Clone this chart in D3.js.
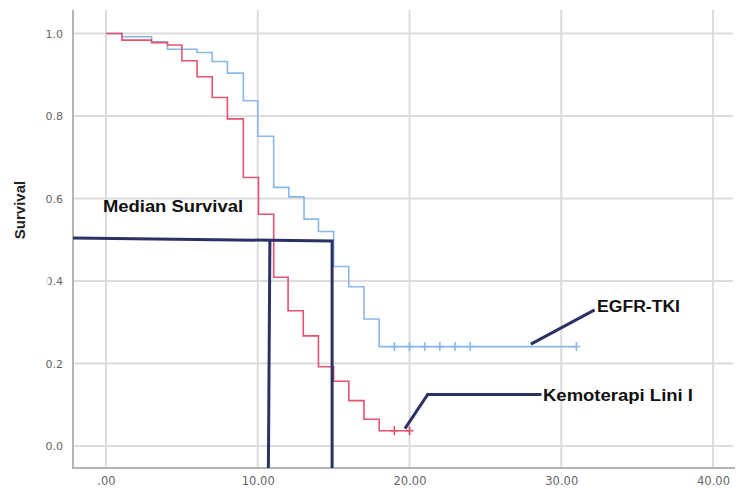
<!DOCTYPE html>
<html>
<head>
<meta charset="utf-8">
<script src="https://cdn.jsdelivr.net/npm/d3@7"></script>
<style>
  html, body { margin: 0; padding: 0; background: #fff; }
  svg { display: block; }
</style>
</head>
<body>
<svg id="chart" width="736" height="489"></svg>
<script>
// ---- data ----
const xTicks = [0, 10, 20, 30, 40];
const xTickLabels = [".00", "10.00", "20.00", "30.00", "40.00"];
const yTicks = [0, 0.2, 0.4, 0.6, 0.8, 1.0];
const yTickLabels = ["0.0", "0.2", "0.4", "0.6", "0.8", "1.0"];

// Kemoterapi Lini I (red) : event times and survival after each step
const chemoTimes = [0, 1.05, 3.0, 4.05, 5.0, 6.0, 7.0, 8.0, 9.05, 10.05, 11.05, 12.0, 13.0, 14.0, 15.0, 16.0, 17.0, 18.0];
const chemoSurv  = [1.0, 0.984, 0.978, 0.972, 0.934, 0.895, 0.845, 0.793, 0.651, 0.562, 0.409, 0.328, 0.267, 0.192, 0.157, 0.110, 0.065, 0.037];
const chemoEnd = 20.0;
const chemoCensor = [19.0, 20.0];

// EGFR-TKI (blue)
const egfrTimes = [0, 1.05, 3.0, 4.05, 6.0, 7.0, 8.0, 9.05, 10.0, 11.05, 12.05, 13.05, 14.0, 15.0, 16.0, 17.0, 18.0];
const egfrSurv  = [1.0, 0.992, 0.980, 0.962, 0.954, 0.932, 0.904, 0.837, 0.751, 0.627, 0.604, 0.550, 0.520, 0.435, 0.386, 0.308, 0.241];
const egfrEnd = 31.0;
const egfrCensor = [19.0, 20.0, 21.0, 22.0, 23.0, 24.0, 31.0];

const medianChemo = 10.8;
const medianEgfr = 14.9;

(function () {
// ---- layout ----
const svg = d3.select("#chart");
const pL = 73, pR = 733, pT = 10, pB = 468;
const x = d3.scaleLinear().domain([0, 40]).range([106, 713]);
const y = d3.scaleLinear().domain([0, 1]).range([446, 33.5]);

const gridColor = "#dcdcdc";
const axisColor = "#b4b4b4";
const red = "#e2536f";
const blue = "#8ab6ec";
const navy = "#2b3263";

// gridlines
svg.append("g").selectAll("line").data(xTicks).join("line")
  .attr("x1", d => x(d)).attr("x2", d => x(d))
  .attr("y1", pT).attr("y2", pB)
  .attr("stroke", gridColor).attr("stroke-width", 2);
svg.append("g").selectAll("line").data(yTicks).join("line")
  .attr("x1", pL).attr("x2", pR)
  .attr("y1", d => y(d)).attr("y2", d => y(d))
  .attr("stroke", gridColor).attr("stroke-width", 2);

// axes via d3 axis
const xAxis = d3.axisBottom(x).tickValues(xTicks)
  .tickFormat((d, i) => xTickLabels[i]).tickSize(0).tickPadding(9);
const gx = svg.append("g").attr("transform", `translate(0,${pB})`).call(xAxis);
gx.select(".domain").remove();
gx.selectAll("text").attr("fill", "#666").attr("font-family", "DejaVu Sans, sans-serif").attr("font-size", 11.5);

const yAxis = d3.axisLeft(y).tickValues(yTicks)
  .tickFormat((d, i) => yTickLabels[i]).tickSize(0).tickPadding(10);
const gy = svg.append("g").attr("transform", `translate(${pL},0)`).call(yAxis);
gy.select(".domain").remove();
gy.selectAll("text").attr("fill", "#666").attr("font-family", "DejaVu Sans, sans-serif").attr("font-size", 11);

// axis lines
svg.append("line").attr("x1", pL).attr("x2", pL).attr("y1", pT).attr("y2", pB + 1)
  .attr("stroke", axisColor).attr("stroke-width", 2);
svg.append("line").attr("x1", pL - 1).attr("x2", 735).attr("y1", pB).attr("y2", pB)
  .attr("stroke", axisColor).attr("stroke-width", 2);

// faint white box over part of the label area (as in the source image)
svg.append("rect").attr("x", 0).attr("y", 244).attr("width", 48.5).attr("height", 76)
  .attr("fill", "#fff").attr("opacity", 0.75);

// y label
svg.append("text")
  .attr("transform", "translate(25,210) rotate(-90)")
  .attr("text-anchor", "middle")
  .attr("font-family", "Liberation Sans, Arial, sans-serif")
  .attr("font-weight", "bold").attr("font-size", 15).attr("fill", "#222")
  .text("Survival");

// KM step curves
function stepPath(times, surv, end) {
  const pts = times.map((t, i) => [t, surv[i]]);
  pts.push([end, surv[surv.length - 1]]);
  return d3.line().x(d => x(d[0])).y(d => y(d[1])).curve(d3.curveStepAfter)(pts);
}
function lastSurvAt(times, surv, t) {
  let s = surv[0];
  times.forEach((tt, i) => { if (tt <= t) s = surv[i]; });
  return s;
}

svg.append("path").attr("d", stepPath(egfrTimes, egfrSurv, egfrEnd))
  .attr("fill", "none").attr("stroke", blue).attr("stroke-width", 1.6);
svg.append("path").attr("d", stepPath(chemoTimes, chemoSurv, chemoEnd))
  .attr("fill", "none").attr("stroke", red).attr("stroke-width", 1.6);

function censor(ts, times, surv, color) {
  const g = svg.append("g").attr("stroke", color).attr("stroke-width", 1.6);
  ts.forEach(t => {
    const cx = x(t), cy = y(lastSurvAt(times, surv, t));
    g.append("line").attr("x1", cx).attr("x2", cx).attr("y1", cy - 4.5).attr("y2", cy + 4.5);
    g.append("line").attr("x1", cx - 4).attr("x2", cx + 4).attr("y1", cy).attr("y2", cy);
  });
}
censor(egfrCensor, egfrTimes, egfrSurv, blue);
censor(chemoCensor, chemoTimes, chemoSurv, red);

// median survival annotation
const ann = svg.append("g").attr("stroke", navy).attr("stroke-width", 3).attr("fill", "none");
ann.append("path").attr("d", `M${pL},${y(0.504)} L${x(medianEgfr)},${y(0.497)} L${x(medianEgfr)},${pB}`);
ann.append("path").attr("d", `M${x(medianChemo)},${y(0.497)} L${x(medianChemo) - 1.5},${pB}`);

// leader lines
const lead = svg.append("g").attr("stroke", navy).attr("stroke-width", 3).attr("fill", "none");
lead.append("path").attr("d", `M${x(28.0)},${y(0.247)} L${x(32.2)},${y(0.33)}`);
lead.append("path").attr("d", `M${x(19.7)},${y(0.042)} L${x(21.2)},${y(0.125)} L${x(28.7)},${y(0.125)}`);

function label(txt, tx, ty, w) {
  svg.append("text").attr("x", tx).attr("y", ty)
    .attr("font-family", "Liberation Sans, Arial, sans-serif")
    .attr("font-weight", "bold").attr("font-size", 16).attr("fill", "#111")
    .attr("textLength", w).attr("lengthAdjust", "spacingAndGlyphs")
    .text(txt);
}
label("Median Survival", 103, 212, 140);
label("EGFR-TKI", 597, 312, 83);
label("Kemoterapi Lini I", 543, 401, 150);
})();
</script>
</body>
</html>
